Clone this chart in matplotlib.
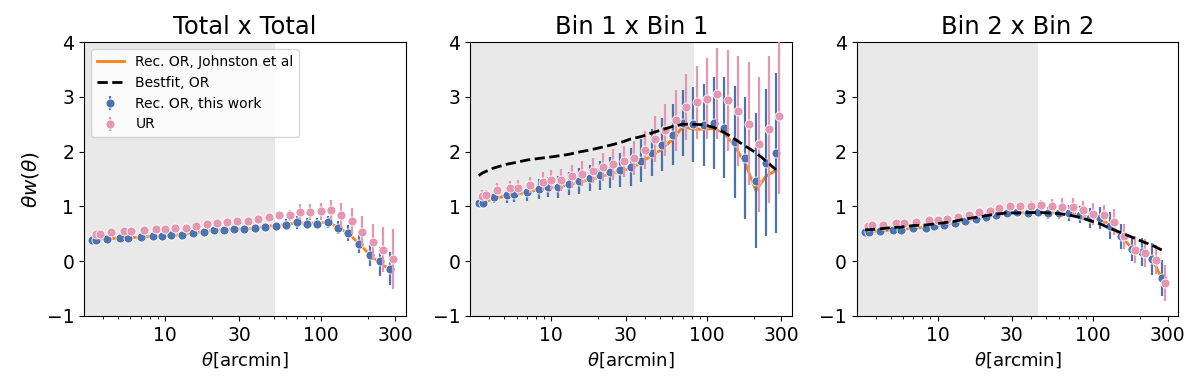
import matplotlib.pyplot as plt
import numpy as np

# angular bins (arcmin), shared by all panels
theta = np.array([3.42, 3.62, 4.27, 5.17, 5.79, 6.98, 8.38, 9.53, 10.98, 12.93,
                  15.1, 17.7, 20.6, 23.8, 27.8, 32.3, 37.9, 44.1, 51.4, 60.2,
                  70.2, 81.7, 95.2, 111, 129, 150.6, 176.3, 206, 239, 277])

titles = ['Total x Total', 'Bin 1 x Bin 1', 'Bin 2 x Bin 2']
scale_cut = [51, 83, 44]

# Total x Total
or_tot = [0.395, 0.395, 0.41, 0.42, 0.42, 0.44, 0.455, 0.46, 0.47, 0.485,
          0.52, 0.54, 0.565, 0.575, 0.59, 0.595, 0.612, 0.63, 0.636, 0.661,
          0.709, 0.685, 0.685, 0.709, 0.612, 0.515, 0.321, 0.115, -0.006, -0.139]
or_tot_err = [0.02, 0.02, 0.02, 0.02, 0.02, 0.02, 0.025, 0.025, 0.03, 0.03,
              0.03, 0.035, 0.035, 0.04, 0.04, 0.045, 0.05, 0.055, 0.07, 0.1,
              0.115, 0.1, 0.1, 0.11, 0.12, 0.14, 0.17, 0.2, 0.27, 0.3]
ur_tot = [0.50, 0.50, 0.53, 0.55, 0.55, 0.56, 0.58, 0.59, 0.60, 0.61,
          0.64, 0.67, 0.70, 0.715, 0.73, 0.74, 0.77, 0.81, 0.84, 0.84,
          0.90, 0.90, 0.91, 0.94, 0.84, 0.73, 0.54, 0.35, 0.21, 0.04]
ur_tot_err = [0.02, 0.02, 0.02, 0.02, 0.02, 0.025, 0.025, 0.025, 0.03, 0.03,
              0.035, 0.035, 0.04, 0.04, 0.045, 0.05, 0.06, 0.07, 0.08, 0.1,
              0.14, 0.14, 0.15, 0.18, 0.23, 0.24, 0.29, 0.32, 0.41, 0.55]
joh_tot = [0.395, 0.40, 0.41, 0.42, 0.425, 0.44, 0.455, 0.46, 0.47, 0.49,
           0.515, 0.54, 0.56, 0.575, 0.585, 0.59, 0.60, 0.636, 0.648, 0.673,
           0.697, 0.697, 0.697, 0.709, 0.624, 0.503, 0.321, 0.115, -0.03, -0.15]
fit_tot = []

# Bin 1 x Bin 1
or_b1 = [1.059, 1.071, 1.169, 1.206, 1.218, 1.267, 1.323, 1.353, 1.359, 1.415,
         1.47, 1.513, 1.568, 1.624, 1.661, 1.722, 1.834, 1.98, 2.128, 2.312,
         2.52, 2.496, 2.49, 2.52, 2.44, 2.18, 1.882, 1.47, 1.796, 1.98]
or_b1_err = [0.09, 0.09, 0.11, 0.14, 0.14, 0.16, 0.18, 0.18, 0.2, 0.21,
             0.24, 0.24, 0.26, 0.28, 0.31, 0.35, 0.39, 0.43, 0.49, 0.55,
             0.6, 0.68, 0.75, 0.84, 0.92, 1.02, 1.12, 1.23, 1.34, 1.46]
ur_b1 = [1.194, 1.206, 1.304, 1.329, 1.341, 1.39, 1.452, 1.482, 1.482, 1.55,
         1.60, 1.655, 1.716, 1.771, 1.82, 1.888, 2.024, 2.226, 2.392, 2.57,
         2.82, 2.90, 2.965, 3.057, 2.934, 2.743, 2.51, 2.135, 2.405, 2.645]
ur_b1_err = [0.10, 0.10, 0.12, 0.14, 0.14, 0.15, 0.18, 0.18, 0.20, 0.21,
             0.23, 0.23, 0.26, 0.28, 0.29, 0.31, 0.35, 0.42, 0.48, 0.55,
             0.60, 0.67, 0.74, 0.83, 0.92, 1.01, 1.12, 1.23, 1.35, 1.41]
joh_b1 = [1.05, 1.07, 1.145, 1.19, 1.218, 1.26, 1.304, 1.33, 1.353, 1.40,
          1.44, 1.49, 1.537, 1.59, 1.636, 1.70, 1.80, 1.93, 2.04, 2.23,
          2.46, 2.41, 2.41, 2.42, 2.34, 2.10, 1.78, 1.29, 1.55, 1.66]
fit_b1 = [1.563, 1.612, 1.70, 1.77, 1.797, 1.846, 1.877, 1.895, 1.92, 1.95,
          1.993, 2.03, 2.073, 2.116, 2.165, 2.23, 2.276, 2.34, 2.40, 2.46,
          2.50, 2.50, 2.49, 2.44, 2.35, 2.23, 2.10, 1.98, 1.83, 1.67]

# Bin 2 x Bin 2
or_b2 = [0.528, 0.534, 0.546, 0.570, 0.570, 0.606, 0.612, 0.636, 0.655, 0.697,
         0.739, 0.770, 0.806, 0.849, 0.879, 0.891, 0.88, 0.897, 0.885, 0.88,
         0.88, 0.849, 0.788, 0.78, 0.649, 0.455, 0.225, 0.164, 0.042, -0.303]
or_b2_err = [0.02, 0.02, 0.02, 0.02, 0.02, 0.025, 0.025, 0.03, 0.03, 0.03,
             0.035, 0.04, 0.045, 0.05, 0.055, 0.06, 0.08, 0.08, 0.11, 0.11,
             0.14, 0.15, 0.19, 0.2, 0.24, 0.23, 0.23, 0.26, 0.29, 0.33]
ur_b2 = [0.649, 0.655, 0.667, 0.691, 0.703, 0.715, 0.745, 0.758, 0.776, 0.80,
         0.849, 0.891, 0.921, 0.964, 1.0, 1.012, 1.012, 1.018, 1.012, 0.982,
         0.982, 0.927, 0.861, 0.836, 0.715, 0.455, 0.212, 0.152, 0.03, -0.394]
ur_b2_err = [0.02, 0.02, 0.02, 0.02, 0.02, 0.025, 0.025, 0.03, 0.03, 0.03,
             0.035, 0.04, 0.045, 0.05, 0.055, 0.06, 0.08, 0.1, 0.12, 0.17,
             0.17, 0.18, 0.2, 0.19, 0.23, 0.23, 0.24, 0.25, 0.27, 0.33]
joh_b2 = [0.53, 0.535, 0.548, 0.57, 0.575, 0.605, 0.615, 0.636, 0.66, 0.70,
          0.74, 0.77, 0.806, 0.845, 0.875, 0.885, 0.885, 0.89, 0.885, 0.88,
          0.875, 0.85, 0.80, 0.77, 0.66, 0.46, 0.24, 0.16, 0.04, -0.33]
fit_b2 = [0.57, 0.575, 0.59, 0.615, 0.62, 0.65, 0.66, 0.68, 0.70, 0.73,
          0.77, 0.80, 0.83, 0.86, 0.88, 0.88, 0.885, 0.89, 0.88, 0.868,
          0.84, 0.80, 0.74, 0.68, 0.595, 0.52, 0.44, 0.36, 0.29, 0.20]

panels = [(or_tot, or_tot_err, ur_tot, ur_tot_err, joh_tot, fit_tot),
          (or_b1, or_b1_err, ur_b1, ur_b1_err, joh_b1, fit_b1),
          (or_b2, or_b2_err, ur_b2, ur_b2_err, joh_b2, fit_b2)]

blue = '#4c72b0'
pink = '#e597b2'

fig, axes = plt.subplots(1, 3, figsize=(12, 3.9), dpi=100)
fig.subplots_adjust(left=0.07, right=0.982, top=0.892, bottom=0.19, wspace=0.2)

for i, ax in enumerate(axes):
    orv, ore, urv, ure, joh, fit = panels[i]
    ax.axvspan(1, scale_cut[i], color='#e9e9e9', lw=0, zorder=0)
    ax.plot(theta, joh, color='#ff7f0e', lw=2, zorder=2, label='Rec. OR, Johnston et al')
    ax.plot(theta[:len(fit)], fit, color='black', ls='--', lw=2, zorder=5,
            label='Bestfit, OR')
    ax.errorbar(theta, orv, yerr=ore, fmt='o', color=blue, ms=6.5, mec='white',
                mew=0.6, elinewidth=1.6, capsize=0, zorder=3, label='Rec. OR, this work')
    ax.errorbar(theta * 1.05, urv, yerr=ure, fmt='o', color=pink, ms=6.5, mec='white',
                mew=0.6, elinewidth=1.6, capsize=0, zorder=4, label='UR')
    ax.set_xscale('log')
    ax.set_xlim(3.02, 352)
    ax.set_ylim(-1, 4)
    ax.set_xticks([10, 30, 100, 300])
    ax.set_xticklabels(['10', '30', '100', '300'])
    ax.set_yticks([-1, 0, 1, 2, 3, 4])
    ax.tick_params(labelsize=13.5)
    ax.set_title(titles[i], fontsize=17.5)
    ax.set_xlabel(r'$\theta$[arcmin]', fontsize=13)

axes[0].set_ylabel(r'$\theta w(\theta)$', fontsize=14.5)
axes[0].legend(loc='upper left', fontsize=10)

plt.savefig('out.png')
